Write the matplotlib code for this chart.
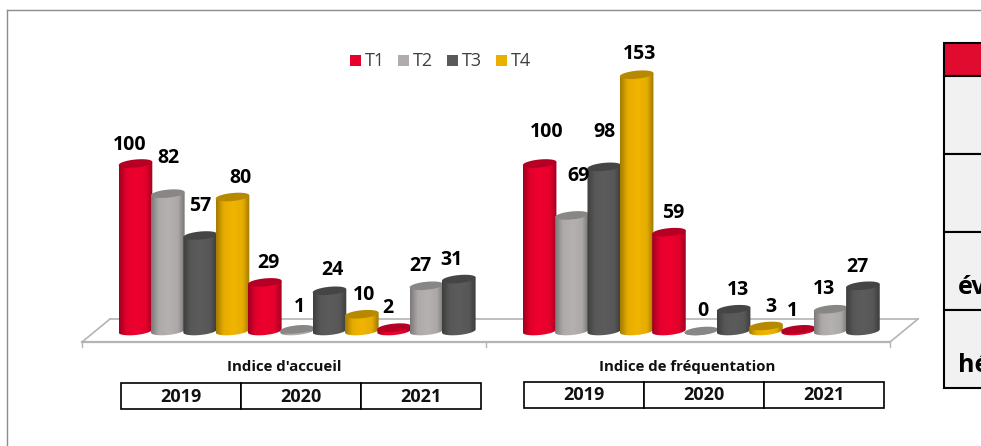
import numpy as np
import matplotlib
matplotlib.use("Agg")
import matplotlib.pyplot as plt
from matplotlib.patches import Rectangle, Polygon
from matplotlib.colors import LinearSegmentedColormap

FONT = "Open Sans"
W, H = 981, 446

# ---- data ----
series_names = ["T1", "T2", "T3", "T4"]
indices = ["Indice d'accueil", "Indice de fréquentation"]
years = ["2019", "2020", "2021"]
accueil = [100, 82, 57, 80, 29, 1, 24, 10, 2, 27, 31]
frequentation = [100, 69, 98, 153, 59, 0, 13, 3, 1, 13, 27]
series_colors = ["#E8002D", "#B0ACAC", "#595959", "#EAB000"]

# ---- layout (pixel geometry of the picture) ----
PITCH = 32.33
X0 = 135.5          # centre of first bar, px
BASE = 331.0        # centre of bottom ellipse, px
PX_PER_UNIT = 1.675
GROUP_GAP = 12.5    # start of second group in bar pitches

fig = plt.figure(figsize=(W / 100, H / 100), dpi=100, facecolor="white")
ax = fig.add_axes([0, 0, 1, 1])
ax.set_xlim(0, W)
ax.set_ylim(H, 0)
ax.axis("off")

def xpos(i):
    return X0 + PITCH * i

def ypos(v):
    return BASE - PX_PER_UNIT * v

def shade(c, f):
    r = np.array(matplotlib.colors.to_rgb(c))
    return tuple(np.clip(r * f, 0, 1))

def cylinder(i, v, color, z):
    cx, top, bot = xpos(i), ypos(v), BASE
    half = 16.8
    b, tilt = 4.0, 1.6
    t = np.linspace(0, 2 * np.pi, 80)
    ex = half * np.cos(t)
    ey = b * np.sin(t) - tilt * np.cos(t)
    tb = np.linspace(0, np.pi, 40)
    lower = np.c_[cx + half * np.cos(tb), bot + b * np.sin(tb) - tilt * np.cos(tb)]
    upper = np.array([[cx - half, top + tilt], [cx + half, top - tilt]])
    body = Polygon(np.vstack([lower, upper]), closed=True, fc="none", ec="none", zorder=z)
    ax.add_patch(body)
    cmap = LinearSegmentedColormap.from_list(
        "c", [(0, shade(color, .70)), (.22, shade(color, .98)), (.5, shade(color, 1.03)),
              (.8, shade(color, .98)), (1, shade(color, .68))])
    grad = np.linspace(0, 1, 64)[None, :]
    im = ax.imshow(grad, cmap=cmap, extent=[cx - half, cx + half, bot + b + 2, top - b - 2],
                   aspect="auto", zorder=z, interpolation="bilinear")
    im.set_clip_path(body)
    capc = shade(color, .78)
    ax.add_patch(Polygon(np.c_[cx + ex, top + ey], closed=True, fc=capc, ec="none", zorder=z + .1))

# ---- outer frame ----
ax.plot([7, 7], [H, 10], color="#8c8c8c", lw=1.0, zorder=1)
ax.plot([7, W], [10, 10], color="#8c8c8c", lw=1.0, zorder=1)

# ---- floor ----
fx0, fx1, fy0, fy1, dx = 82, 890, 342, 319, 28
floor_c = "#b4b4b4"
ax.plot([fx0, fx1], [fy0, fy0], color=floor_c, lw=1.6, zorder=2)
ax.plot([fx0 + dx, fx1 + dx], [fy1, fy1], color=floor_c, lw=1.2, zorder=2)
ax.plot([fx0, fx0 + dx], [fy0, fy1], color=floor_c, lw=1.2, zorder=2)
ax.plot([fx1, fx1 + dx], [fy0, fy1], color=floor_c, lw=1.2, zorder=2)
for x in (fx0, (fx0 + fx1) / 2, fx1):
    ax.plot([x, x], [fy0, 347], color=floor_c, lw=1.0, zorder=2)

# ---- bars ----
label_offsets = [
    [(-5.5, -18.5), (1, -36), (0, -30), (8.5, -19), (4, -19), (2, -22),
     (2.5, -21), (2, -19), (-6, -20), (-6.5, -20), (-7, -19)],
    [(7.5, -31.5), (7, -39), (0, -35), (2.5, -21), (4, -19), (2, -20),
     (4.5, -19), (5, -19), (-6, -18), (-6.5, -20), (-6, -19)],
]
for g, vals in enumerate([accueil, frequentation]):
    start = 0 if g == 0 else GROUP_GAP
    for k, v in enumerate(vals):
        i = start + k
        cylinder(i, v, series_colors[k % 4], 3 + k * .2)
        ox, oy = label_offsets[g][k]
        ax.text(xpos(i) + ox, ypos(v) + oy, str(v), ha="center", va="center",
                fontsize=14, fontweight="bold", family=FONT, color="black", zorder=10)

# ---- category titles ----
for cx, name in zip([284, 687], indices):
    ax.text(cx, 367, name, ha="center", va="center", fontsize=10.8,
            fontweight="bold", family=FONT, color="#111111", zorder=10)

# ---- year boxes ----
for left, top in [(121, 383), (524, 382)]:
    w, h = 120, 26
    for j, y in enumerate(years):
        ax.add_patch(Rectangle((left + j * w, top), w, h, fc="white", ec="black", lw=1.2, zorder=5))
        ax.text(left + j * w + w / 2, top + h / 2 + .5, y, ha="center", va="center",
                fontsize=13, fontweight="bold", family=FONT, color="#111111", zorder=6)

# ---- legend ----
for x, n, c in zip([350, 398, 447, 496], series_names, series_colors):
    ax.add_patch(Rectangle((x, 55), 11, 11, fc=c, ec="none", zorder=5))
    ax.text(x + 15, 60.5, n, ha="left", va="center", fontsize=13, family=FONT,
            color="#404040", zorder=6)

# ---- clipped table at right ----
tx, rows = 944, [76, 154, 232, 310, 388]
ax.add_patch(Rectangle((tx, 43), W, 33, fc="#E00B2F", ec="black", lw=1.5, zorder=5))
for a, b in zip(rows[:-1], rows[1:]):
    ax.add_patch(Rectangle((tx, a), W, b - a, fc="#F1F1F1", ec="black", lw=1.5, zorder=5))
ax.text(tx + 14, 288, "év", ha="left", va="center", fontsize=18, fontweight="bold",
        family=FONT, color="black", zorder=6, clip_on=True)
ax.text(tx + 14, 366, "hé", ha="left", va="center", fontsize=18, fontweight="bold",
        family=FONT, color="black", zorder=6, clip_on=True)

fig.savefig("out.png", dpi=100, facecolor="white")
